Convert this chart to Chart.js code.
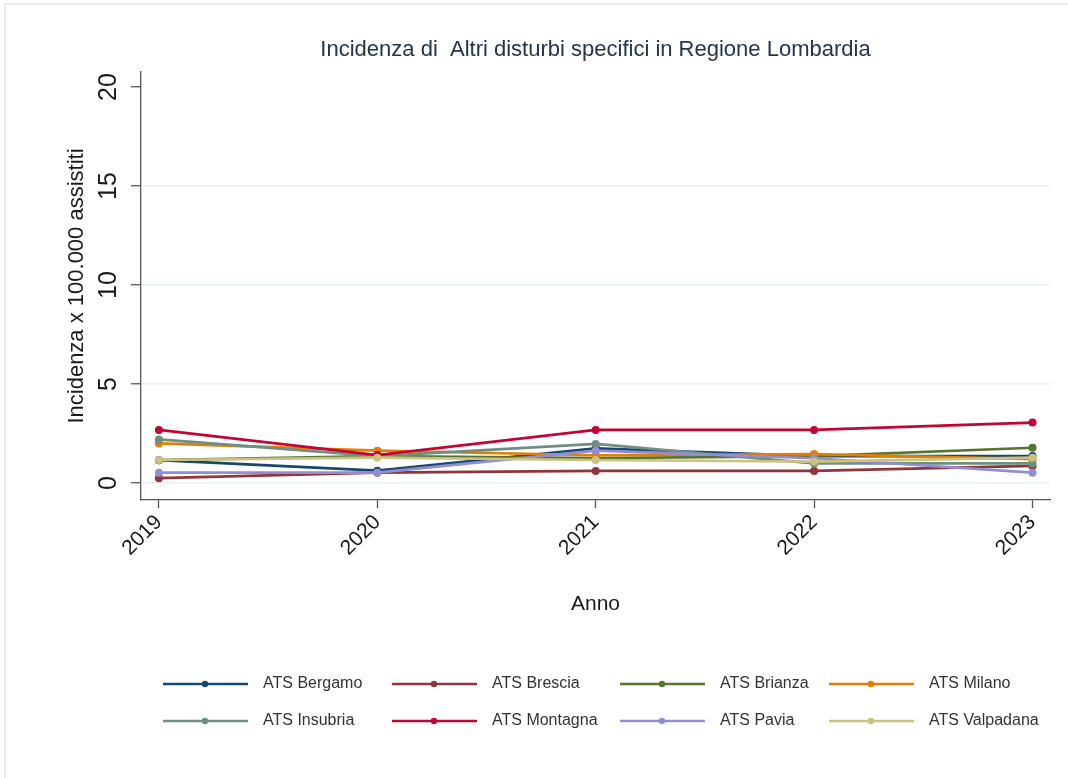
<!DOCTYPE html>
<html>
<head>
    <title>Incidenza Altri disturbi specifici</title>
    <style>
        html, body { margin: 0; padding: 0; background: #fff; }
        #wrap { width: 1068px; height: 778px; position: relative; }
    </style>
    <script src="https://cdn.jsdelivr.net/npm/chart.js"></script>
</head>
<body>
    <div id="wrap"><canvas id="chartLinee" width="1068" height="778"></canvas></div>

    <script>
        // dati (incidenza x 100.000 assistiti)
        var anni = [2019, 2020, 2021, 2022, 2023];
        var yTicks = [0, 5, 10, 15, 20];

        var atsNomi = ['ATS Bergamo', 'ATS Brescia', 'ATS Brianza', 'ATS Milano',
                       'ATS Insubria', 'ATS Montagna', 'ATS Pavia', 'ATS Valpadana'];

        var bergamo   = [1.15, 0.62, 1.75, 1.36, 1.36];
        var brescia   = [0.24, 0.52, 0.61, 0.61, 0.86];
        var brianza   = [1.15, 1.36, 1.26, 1.36, 1.78];
        var milano    = [2.00, 1.63, 1.40, 1.46, 1.20];
        var insubria  = [2.20, 1.36, 1.97, 0.99, 0.99];
        var montagna  = [2.68, 1.41, 2.68, 2.68, 3.05];
        var pavia     = [0.52, 0.52, 1.63, 1.25, 0.52];
        var valpadana = [1.16, 1.28, 1.16, 1.08, 1.28];

        var serie = [bergamo, brescia, brianza, milano, insubria, montagna, pavia, valpadana];
        var colori = ['#1a476f', '#90353b', '#55752f', '#e37e00',
                      '#6e8e84', '#c10534', '#938dd2', '#cac27e'];

        var datasets = serie.map(function(valori, i) {
            return {
                label: atsNomi[i],
                data: anni.map(function(a, j) { return { x: a, y: valori[j] }; }),
                borderColor: colori[i],
                backgroundColor: colori[i],
                borderWidth: 2.7,
                pointRadius: 4,
                pointBorderWidth: 0,
                order: -i // come Stata: l'ultima serie sopra
            };
        });

        // titolo, cornice e legenda disegnati a mano
        var decorazioni = {
            id: 'decorazioni',
            beforeDraw: function(chart) {
                var ctx = chart.ctx;
                ctx.save();
                ctx.fillStyle = '#fff';
                ctx.fillRect(0, 0, chart.width, chart.height);
                ctx.strokeStyle = '#e6eded';
                ctx.lineWidth = 2;
                ctx.beginPath();
                ctx.moveTo(5, chart.height);
                ctx.lineTo(5, 4);
                ctx.lineTo(chart.width, 4);
                ctx.stroke();
                ctx.restore();
            },
            afterDraw: function(chart) {
                var ctx = chart.ctx;
                var area = chart.chartArea;
                ctx.save();
                ctx.fillStyle = '#253446';
                ctx.font = '22px "Liberation Sans", Arial, sans-serif';
                ctx.textAlign = 'center';
                ctx.textBaseline = 'middle';
                ctx.fillText('Incidenza di  Altri disturbi specifici in Regione Lombardia',
                             (area.left + area.right) / 2, 50);

                var colX = [163, 392, 620, 829];
                var rowY = [684, 721];
                ctx.font = '16px "Liberation Sans", Arial, sans-serif';
                ctx.textAlign = 'left';
                chart.data.datasets.forEach(function(ds, i) {
                    var x = colX[i % 4];
                    var y = rowY[Math.floor(i / 4)];
                    ctx.strokeStyle = ds.borderColor;
                    ctx.lineWidth = 2.5;
                    ctx.beginPath();
                    ctx.moveTo(x, y);
                    ctx.lineTo(x + 85, y);
                    ctx.stroke();
                    ctx.fillStyle = ds.borderColor;
                    ctx.beginPath();
                    ctx.arc(x + 42, y, 3.2, 0, Math.PI * 2);
                    ctx.fill();
                    ctx.fillStyle = '#333';
                    ctx.fillText(ds.label, x + 100, y);
                });
                ctx.restore();
            }
        };

        var ctxLinee = document.getElementById('chartLinee').getContext('2d');
        var chartLinee = new Chart(ctxLinee, {
            type: 'line',
            data: { datasets: datasets },
            plugins: [decorazioni],
            options: {
                responsive: false,
                animation: false,
                layout: { padding: { left: 64, top: 72, right: 18, bottom: 161 } },
                plugins: {
                    legend: { display: false },
                    tooltip: { enabled: false }
                },
                scales: {
                    x: {
                        type: 'linear',
                        min: 2018.918,
                        max: 2023.08,
                        afterBuildTicks: function(scale) {
                            scale.ticks = anni.map(function(a) { return { value: a }; });
                        },
                        afterFit: function(scale) { scale.height = 117; },
                        ticks: {
                            minRotation: 45,
                            maxRotation: 45,
                            padding: 2,
                            color: '#1a1a1a',
                            font: { family: '"Liberation Sans", Arial, sans-serif', size: 21 },
                            callback: function(v) { return String(v); }
                        },
                        grid: {
                            drawOnChartArea: false,
                            drawTicks: true,
                            tickLength: 8,
                            tickColor: '#555',
                            tickWidth: 1.3
                        },
                        border: { color: '#555', width: 1.3 },
                        title: {
                            display: true,
                            text: 'Anno',
                            color: '#1a1a1a',
                            padding: 0,
                            font: { family: '"Liberation Sans", Arial, sans-serif', size: 21 }
                        }
                    },
                    y: {
                        min: -0.86,
                        max: 20.76,
                        afterBuildTicks: function(scale) {
                            scale.ticks = yTicks.map(function(v) { return { value: v }; });
                        },
                        afterFit: function(scale) { scale.width = 77; },
                        ticks: {
                            minRotation: 90,
                            maxRotation: 90,
                            crossAlign: 'center',
                            padding: 8,
                            color: '#1a1a1a',
                            font: { family: '"Liberation Sans", Arial, sans-serif', size: 25 }
                        },
                        grid: {
                            color: function(c) {
                                return (c.tick && c.tick.value === 20) ? 'rgba(0,0,0,0)' : '#e8f0f1';
                            },
                            lineWidth: 1.5,
                            drawTicks: true,
                            tickLength: 10,
                            tickColor: '#555',
                            tickWidth: 1.3
                        },
                        border: { color: '#555', width: 1.3 },
                        title: {
                            display: true,
                            text: 'Incidenza x 100.000 assistiti',
                            color: '#1a1a1a',
                            padding: 0,
                            font: { family: '"Liberation Sans", Arial, sans-serif', size: 22 }
                        }
                    }
                }
            }
        });
    </script>
</body>
</html>
